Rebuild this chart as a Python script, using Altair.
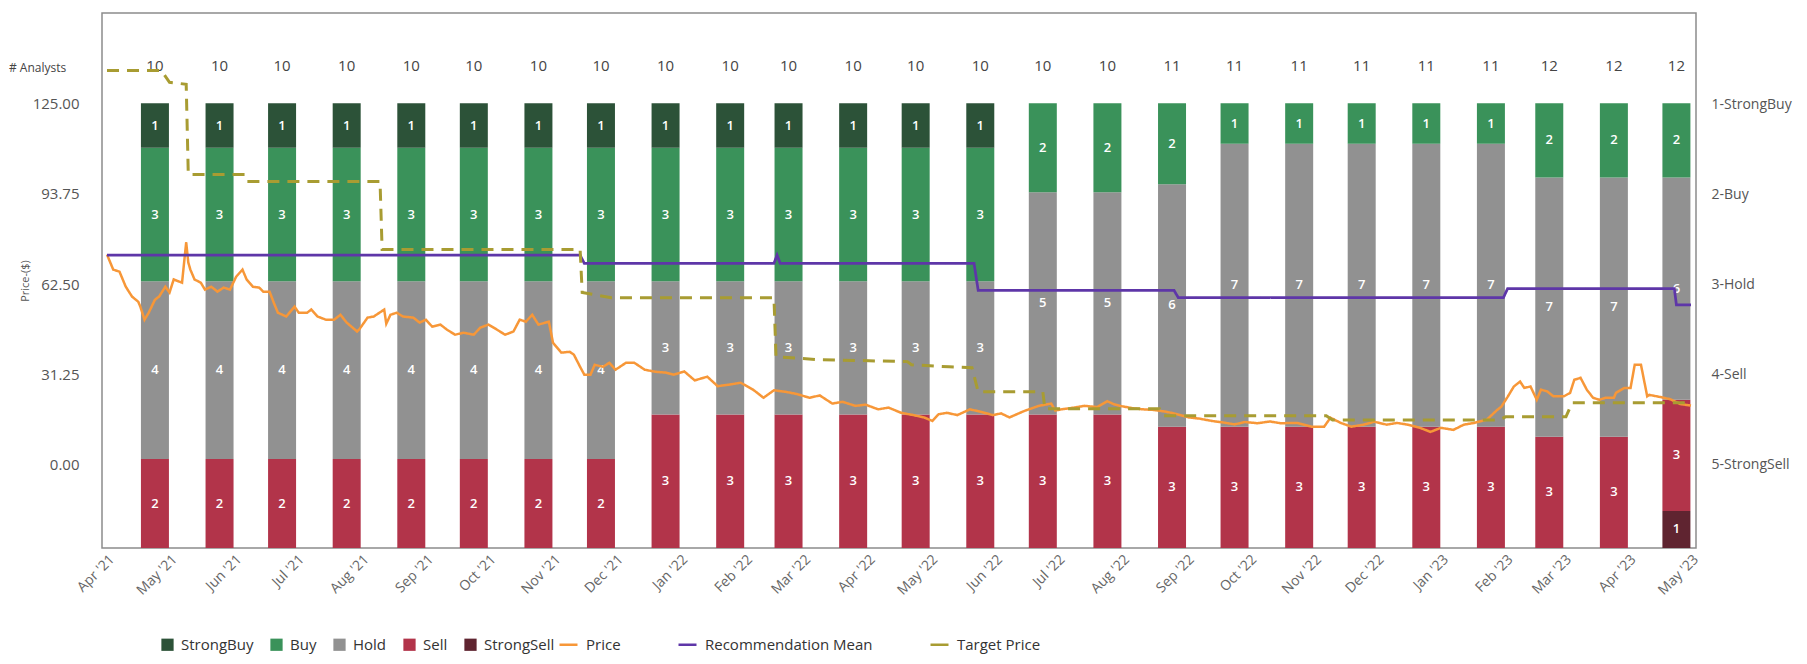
import altair as alt
import pandas as pd

# monthly analyst snapshots (bar label month, date the bar sits on)
bar_months = ["May '21", "Jun '21", "Jul '21", "Aug '21", "Sep '21", "Oct '21", "Nov '21", "Dec '21",
              "Jan '22", "Feb '22", "Mar '22", "Apr '22", "May '22", "Jun '22", "Jul '22", "Aug '22",
              "Sep '22", "Oct '22", "Nov '22", "Dec '22", "Jan '23", "Feb '23", "Mar '23", "Apr '23", "May '23"]
bar_dates = ["2021-04-24", "2021-05-25", "2021-06-24", "2021-07-25", "2021-08-25", "2021-09-24",
             "2021-10-25", "2021-11-24", "2021-12-25", "2022-01-25", "2022-02-22", "2022-03-25",
             "2022-04-24", "2022-05-25", "2022-06-24", "2022-07-25", "2022-08-25", "2022-09-24",
             "2022-10-25", "2022-11-24", "2022-12-25", "2023-01-25", "2023-02-22", "2023-03-25", "2023-04-24"]
strong_buy = [1, 1, 1, 1, 1, 1, 1, 1, 1, 1, 1, 1, 1, 1, 0, 0, 0, 0, 0, 0, 0, 0, 0, 0, 0]
buy = [3, 3, 3, 3, 3, 3, 3, 3, 3, 3, 3, 3, 3, 3, 2, 2, 2, 1, 1, 1, 1, 1, 2, 2, 2]
hold = [4, 4, 4, 4, 4, 4, 4, 4, 3, 3, 3, 3, 3, 3, 5, 5, 6, 7, 7, 7, 7, 7, 7, 7, 6]
sell = [2, 2, 2, 2, 2, 2, 2, 2, 3, 3, 3, 3, 3, 3, 3, 3, 3, 3, 3, 3, 3, 3, 3, 3, 3]
strong_sell = [0, 0, 0, 0, 0, 0, 0, 0, 0, 0, 0, 0, 0, 0, 0, 0, 0, 0, 0, 0, 0, 0, 0, 0, 1]

# (days since 2021-04-01, value)
price_pts = [(0, 72.7), (3, 67.5), (6, 66.8), (9, 61.6), (12, 58.2), (15, 56.4), (16, 54.7), (18, 50.2),
             (20, 52.6), (23, 57.1), (25, 58.2), (28, 61.6), (30, 59.6), (32, 64.1), (36, 63.0), (37, 70.0),
             (38, 76.9), (39, 70.0), (40, 67.5), (42, 64.1), (45, 63.0), (47, 60.6), (50, 61.6), (53, 59.9),
             (56, 61.3), (59, 60.6), (62, 65.1), (65, 67.5), (67, 64.1), (70, 61.6), (73, 61.3), (75, 59.9),
             (78, 59.9), (80, 56.1), (82, 52.6), (86, 51.3), (90, 54.7), (92, 52.6), (96, 52.6), (98, 53.7),
             (101, 51.3), (105, 50.2), (109, 50.2), (112, 51.9), (115, 49.2), (120, 46.1), (121, 46.8),
             (125, 50.9), (128, 51.3), (133, 53.7), (134, 48.8), (136, 51.9), (139, 52.6), (142, 51.3),
             (147, 50.9), (150, 49.2), (153, 50.2), (156, 47.8), (160, 48.5), (163, 46.8), (167, 45.0),
             (171, 45.7), (176, 45.0), (179, 47.4), (183, 48.5), (187, 46.8), (191, 45.0), (195, 46.1),
             (198, 50.2), (201, 49.5), (204, 51.9), (207, 48.5), (212, 49.5), (214, 42.2), (218, 38.8),
             (222, 39.1), (224, 38.1), (227, 33.9), (229, 31.2), (232, 31.2), (234, 34.6), (238, 33.9),
             (241, 35.3), (244, 32.9), (249, 35.3), (253, 35.3), (258, 32.9), (263, 32.2), (268, 31.9),
             (272, 31.2), (277, 32.3), (282, 29.2), (288, 30.5), (293, 27.2), (299, 27.8), (304, 28.4),
             (310, 26.0), (315, 23.2), (320, 25.8), (326, 25.2), (331, 24.5), (337, 23.2), (342, 24.0),
             (348, 21.2), (353, 21.8), (359, 20.4), (364, 20.8), (370, 19.2), (375, 19.8), (381, 18.0),
             (387, 17.2), (392, 16.4), (396, 15.2), (399, 17.5), (403, 18.0), (408, 17.2), (414, 19.2),
             (419, 18.4), (425, 17.2), (429, 17.8), (433, 16.4), (440, 18.6), (447, 20.4), (453, 21.2),
             (455, 18.8), (458, 19.2), (464, 19.8), (469, 20.4), (475, 20.0), (480, 22.0), (483, 21.0),
             (486, 20.4), (492, 19.6), (497, 19.2), (502, 19.0), (508, 18.4), (513, 17.6), (519, 16.4),
             (524, 16.0), (530, 15.2), (536, 14.6), (541, 14.0), (546, 14.8), (552, 14.4), (558, 15.0),
             (563, 14.4), (571, 14.5), (578, 13.2), (584, 13.2), (587, 16.3), (592, 14.5), (597, 13.2),
             (603, 13.9), (608, 14.9), (614, 13.9), (619, 14.5), (624, 13.9), (630, 12.8), (635, 11.4),
             (640, 12.8), (646, 12.1), (651, 13.9), (656, 14.5), (662, 15.6), (667, 19.0), (669, 20.1),
             (672, 23.5), (675, 27.1), (678, 28.8), (680, 26.6), (683, 27.1), (686, 22.5), (688, 26.0),
             (691, 25.4), (694, 23.7), (699, 23.7), (702, 24.9), (704, 29.4), (707, 30.1), (710, 26.0),
             (713, 23.2), (716, 22.5), (719, 23.2), (723, 23.2), (724, 24.9), (728, 26.6), (731, 26.6),
             (733, 34.6), (736, 34.6), (739, 23.7), (740, 24.2), (745, 23.5), (750, 22.7), (755, 21.0),
             (760, 20.5)]
target_pts = [(0, 136.4), (26, 136.4), (30, 132.3), (38, 131.6), (39, 100.4), (66, 100.4), (67, 98.0),
              (131, 98.0), (132, 74.5), (227, 74.5), (228, 59.6), (242, 57.8), (320, 57.8), (321, 37.4),
              (341, 36.4), (384, 35.7), (386, 34.6), (404, 33.9), (415, 33.6), (418, 25.3), (449, 25.3),
              (450, 19.4), (505, 19.4), (507, 17.0), (585, 17.0), (588, 15.5), (668, 15.5), (671, 16.6),
              (700, 16.6), (703, 21.5), (760, 21.5)]
rec_pts = [(0, 2.68), (227, 2.68), (229, 2.77), (320, 2.77), (321.5, 2.68), (323, 2.77), (416, 2.77),
           (418, 3.07), (512, 3.07), (514, 3.15), (670, 3.15), (672, 3.05), (752, 3.05), (753, 3.23),
           (760, 3.23)]

ratings = ["StrongBuy", "Buy", "Hold", "Sell", "StrongSell"]
rating_colors = ["#2c5238", "#3a925a", "#919191", "#b2344a", "#5f2430"]
line_series = ["Price", "Recommendation Mean", "Target Price"]
line_colors = ["#f79738", "#5e36a8", "#a89c32"]
rec_labels = ["", "1-StrongBuy", "2-Buy", "3-Hold", "4-Sell", "5-StrongSell"]

start = pd.Timestamp("2021-04-01")

# stacked segments, StrongSell at the bottom, as fractions of each bar
counts = {"StrongBuy": strong_buy, "Buy": buy, "Hold": hold, "Sell": sell, "StrongSell": strong_sell}
rows = []
for i, d in enumerate(bar_dates):
    total = sum(counts[r][i] for r in ratings)
    below = 0
    for r in reversed(ratings):
        c = counts[r][i]
        if c > 0:
            rows.append({"date": pd.Timestamp(d), "month": bar_months[i], "rating": r, "count": c,
                         "lo": below / total, "hi": (below + c) / total, "mid": (below + c / 2) / total})
        below += c
seg = pd.DataFrame(rows)
totals = pd.DataFrame({"date": pd.to_datetime(bar_dates),
                       "total": [sum(counts[r][i] for r in ratings) for i in range(len(bar_dates))]})


def to_df(pts, name):
    return pd.DataFrame({"date": [start + pd.Timedelta(days=p[0]) for p in pts],
                         "value": [p[1] for p in pts], "series": name})


rec = to_df(rec_pts, "Recommendation Mean")
rec["rec"] = rec["value"]
# the right-hand rating axis runs 1 (at 125.00) down to 5 (at 0.00) on the price axis
rec["value"] = (5 - rec["rec"]) * 31.25
lines = pd.concat([to_df(price_pts, "Price"), rec.drop(columns="rec"), to_df(target_pts, "Target Price")])

x_enc = alt.X("date:T",
              scale=alt.Scale(domain=[alt.DateTime(year=2021, month=4, date=1),
                                      alt.DateTime(year=2023, month=5, date=1)], nice=False),
              axis=alt.Axis(format="%b '%y", tickCount=alt.TimeIntervalStep(interval="month", step=1),
                            labelAngle=-45, labelAlign="right", labelBaseline="top", labelFontSize=14,
                            labelColor="#666", labelPadding=4, ticks=False, domain=False, grid=False,
                            labelOverlap=False, title=None))

bar_scale = alt.Scale(domain=[0, 185 / 153.75], nice=False, zero=False)

bars = alt.Chart(seg).mark_bar(size=28).encode(
    x=x_enc,
    y=alt.Y("lo:Q", scale=bar_scale, axis=None),
    y2="hi:Q",
    color=alt.Color("rating:N", scale=alt.Scale(domain=ratings, range=rating_colors),
                    legend=alt.Legend(title=None, orient="none", legendX=58, legendY=624,
                                      direction="horizontal", symbolType="square", symbolSize=150,
                                      symbolStrokeWidth=0, labelFontSize=15, labelColor="#333",
                                      columnPadding=15, labelOffset=6, labelLimit=0)),
)
seg_text = alt.Chart(seg).mark_text(color="white", fontSize=13, fontWeight=600).encode(
    x=x_enc,
    y=alt.Y("mid:Q", scale=bar_scale, axis=None),
    text="count:Q",
)
tot_text = alt.Chart(totals).mark_text(color="#444", fontSize=15).encode(
    x=x_enc, y=alt.value(53), text="total:Q")
analysts = alt.Chart(pd.DataFrame({"t": ["# Analysts"]})).mark_text(
    align="left", color="#444", fontSize=12).encode(x=alt.value(-93), y=alt.value(55), text="t:N")

bar_group = alt.layer(bars, seg_text, tot_text, analysts)

price_scale = alt.Scale(domain=[-28.75, 156.25], nice=False, zero=False)

price_lines = alt.Chart(lines).mark_line().encode(
    x=x_enc,
    y=alt.Y("value:Q", scale=price_scale,
            axis=alt.Axis(orient="left", values=[0, 31.25, 62.5, 93.75, 125], format=".2f",
                          title="Price-($)", titleFontSize=11, titleFontWeight="normal", titleColor="#555",
                          titlePadding=2, labelFontSize=15, labelColor="#555", labelPadding=23,
                          ticks=False, domain=False, grid=False)),
    color=alt.Color("series:N", scale=alt.Scale(domain=line_series, range=line_colors),
                    legend=alt.Legend(title=None, orient="none", legendX=456, legendY=621,
                                      direction="horizontal", symbolType="stroke", symbolSize=324,
                                      symbolStrokeWidth=2.5, labelFontSize=15, labelColor="#333",
                                      columnPadding=52, labelOffset=7, labelLimit=0)),
    strokeDash=alt.StrokeDash("series:N",
                              scale=alt.Scale(domain=line_series, range=[[1, 0], [1, 0], [12, 8]])),
    strokeWidth=alt.StrokeWidth("series:N", scale=alt.Scale(domain=line_series, range=[2.5, 3, 2.5]),
                                legend=None),
)

# invisible copy of the rating mean, only to carry the right-hand rating axis
rec_axis = alt.Chart(rec).mark_line(opacity=0).encode(
    x=x_enc,
    y=alt.Y("rec:Q", scale=alt.Scale(domain=[-0.01, 5.92], reverse=True, nice=False, zero=False),
            axis=alt.Axis(orient="right", values=[1, 2, 3, 4, 5],
                          labelExpr=f"{rec_labels}[datum.value]", labelFontSize=14, labelColor="#555",
                          labelPadding=15, ticks=False, domain=False, grid=False, title=None)),
)

line_group = alt.layer(price_lines, rec_axis).resolve_scale(y="independent")

chart = alt.layer(bar_group, line_group).resolve_scale(
    y="independent", color="independent"
).properties(
    width=1594, height=535,
    autosize=alt.AutoSizeParams(type="none"),
    padding={"left": 94, "top": 5, "right": 103, "bottom": 108},
).configure(font="Open Sans").configure_view(stroke="#8c8c8c", strokeWidth=1.5)

chart.save("out.html", embed_options={"renderer": "svg", "actions": False})
